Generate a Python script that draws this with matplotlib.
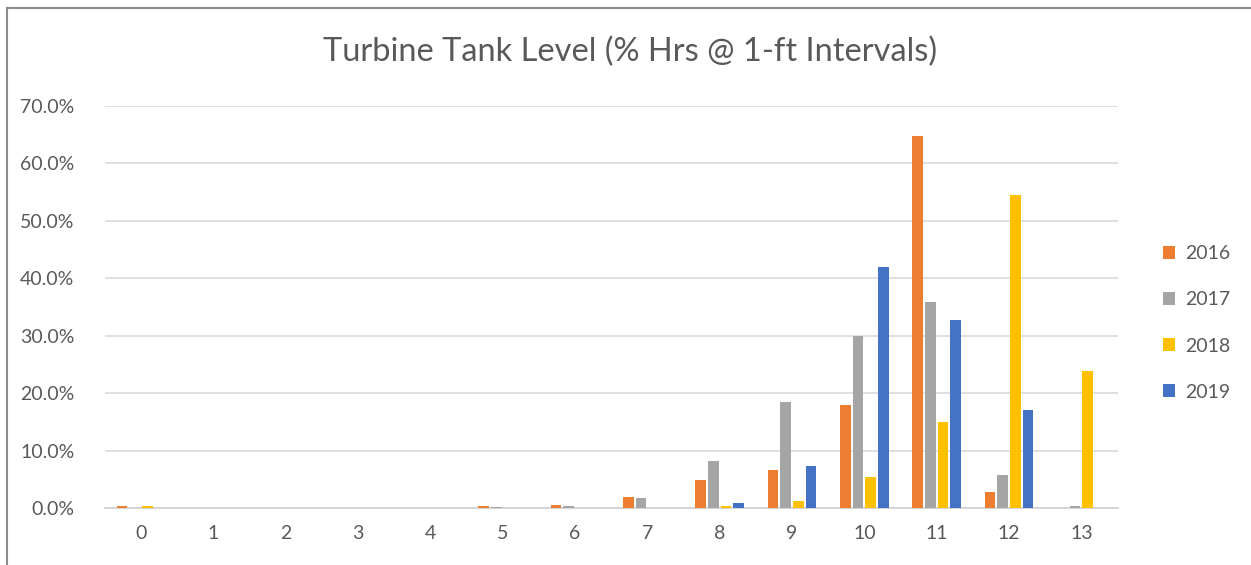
import matplotlib.pyplot as plt
import numpy as np
from matplotlib.lines import Line2D
from matplotlib.ticker import PercentFormatter

plt.rcParams['font.family'] = ['Lato', 'DejaVu Sans']

# share of hours at each 1-ft tank level, in percent
levels = [str(i) for i in range(14)]
years = ['2016', '2017', '2018', '2019']
pct_2016 = [0.3, 0, 0, 0, 0, 0.3, 0.6, 2.0, 4.8, 6.7, 17.9, 64.8, 2.8, 0]
pct_2017 = [0, 0, 0, 0, 0, 0.2, 0.3, 1.7, 8.1, 18.5, 29.9, 35.8, 5.7, 0.35]
pct_2018 = [0.3, 0, 0, 0, 0, 0, 0, 0, 0.4, 1.2, 5.4, 14.9, 54.5, 23.8]
pct_2019 = [0, 0, 0, 0, 0, 0, 0, 0, 0.9, 7.3, 41.9, 32.7, 17.1, 0]
colors = ['#ED7D31', '#A5A5A5', '#FFC000', '#4472C4']

series = [pct_2016, pct_2017, pct_2018, pct_2019]

fig = plt.figure(figsize=(12.51, 5.65), dpi=100)
ax = fig.add_axes([105 / 1251, 1 - 508 / 565, 1012.5 / 1251, 402 / 565])

x = np.arange(len(levels))
step = 0.1757
width = 0.148
for i, (vals, c, yr) in enumerate(zip(series, colors, years)):
  ax.bar(x + (i - 1.5) * step, vals, width, color=c, label=yr, zorder=3)

ax.set_xlim(-0.5, len(levels) - 0.5)
ax.set_ylim(0, 70)
ax.set_yticks(np.arange(0, 71, 10))
ax.yaxis.set_major_formatter(PercentFormatter(decimals=1))
ax.set_xticks(x)
ax.set_xticklabels(levels)
ax.grid(axis='y', color='#d9d9d9', linewidth=1.2, zorder=0)
for s in ['top', 'right', 'left']:
  ax.spines[s].set_visible(False)
ax.spines['bottom'].set_color('#d0d0d0')
ax.spines['bottom'].set_linewidth(1.2)
ax.tick_params(axis='both', length=0, labelsize=14, labelcolor='#595959')
ax.tick_params(axis='y', pad=22)
ax.tick_params(axis='x', pad=12)

fig.text(630 / 1251, 1 - 52 / 565, 'Turbine Tank Level (% Hrs @ 1-ft Intervals)',
         ha='center', va='center', fontsize=23.5, color='#595959')

fig.legend(loc='center left', bbox_to_anchor=(1145 / 1251, 1 - 323 / 565),
           frameon=False, fontsize=14, labelcolor='#595959',
           handlelength=0.65, handleheight=0.65, handletextpad=0.5,
           labelspacing=1.5)

# outer border of the chart area
fig.add_artist(Line2D([7 / 1251, 7 / 1251], [0, 1 - 8 / 565], color='#8c8c8c', lw=1.5))
fig.add_artist(Line2D([7 / 1251, 1], [1 - 8 / 565, 1 - 8 / 565], color='#8c8c8c', lw=1.5))

fig.savefig('out.png', dpi=100)
